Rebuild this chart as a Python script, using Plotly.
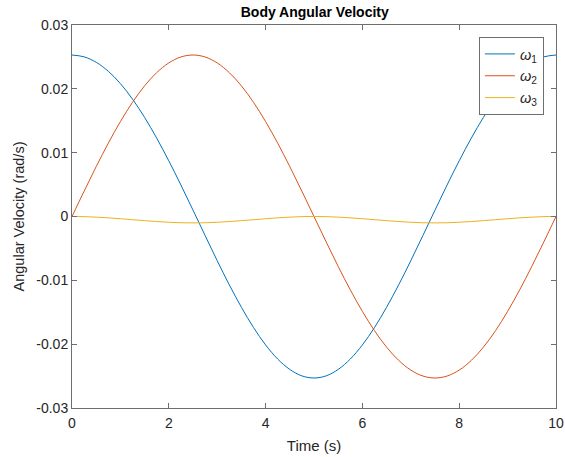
import plotly.graph_objects as go

time_s = [0, 0.25, 0.5, 0.75, 1.0, 1.25, 1.5, 1.75, 2.0, 2.25, 2.5, 2.75, 3.0, 3.25, 3.5, 3.75,
          4.0, 4.25, 4.5, 4.75, 5.0, 5.25, 5.5, 5.75, 6.0, 6.25, 6.5, 6.75, 7.0, 7.25, 7.5, 7.75,
          8.0, 8.25, 8.5, 8.75, 9.0, 9.25, 9.5, 9.75, 10.0]

omega1 = [0.0253, 0.02501, 0.02416, 0.02275, 0.02082, 0.01839, 0.01552, 0.01228, 0.00872, 0.00494,
          0.001, -0.00298, -0.00692, -0.0107, -0.01422, -0.01739, -0.02012, -0.02233, -0.02396, -0.02497,
          -0.0253, -0.02497, -0.02396, -0.02233, -0.02012, -0.01739, -0.01422, -0.0107, -0.00692, -0.00298,
          0.001, 0.00494, 0.00872, 0.01228, 0.01552, 0.01839, 0.02082, 0.02275, 0.02416, 0.02501, 0.0253]

omega2 = [0, 0.00396, 0.00782, 0.01149, 0.01487, 0.01789, 0.02047, 0.02254, 0.02406, 0.02499,
          0.0253, 0.02499, 0.02406, 0.02254, 0.02047, 0.01789, 0.01487, 0.01149, 0.00782, 0.00396,
          0, -0.00396, -0.00782, -0.01149, -0.01487, -0.01789, -0.02047, -0.02254, -0.02406, -0.02499,
          -0.0253, -0.02499, -0.02406, -0.02254, -0.02047, -0.01789, -0.01487, -0.01149, -0.00782, -0.00396, 0]

omega3 = [0, -0.00002, -0.0001, -0.00021, -0.00035, -0.0005, -0.00065, -0.00079, -0.0009, -0.00098,
          -0.001, -0.00098, -0.0009, -0.00079, -0.00065, -0.0005, -0.00035, -0.00021, -0.0001, -0.00002,
          0, -0.00002, -0.0001, -0.00021, -0.00035, -0.0005, -0.00065, -0.00079, -0.0009, -0.00098,
          -0.001, -0.00098, -0.0009, -0.00079, -0.00065, -0.0005, -0.00035, -0.00021, -0.0001, -0.00002, 0]

names = ["<i>ω</i><sub>1</sub>", "<i>ω</i><sub>2</sub>", "<i>ω</i><sub>3</sub>"]
colors = ["#0072BD", "#D95319", "#EDB120"]

x_ticks = [0, 2, 4, 6, 8, 10]
x_tick_labels = ["0", "2", "4", "6", "8", "10"]
y_ticks = [-0.03, -0.02, -0.01, 0, 0.01, 0.02, 0.03]
y_tick_labels = ["-0.03", "-0.02", "-0.01", "0", "0.01", "0.02", "0.03"]

fig = go.Figure()
for ys, nm, c in zip([omega1, omega2, omega3], names, colors):
    fig.add_trace(go.Scatter(x=time_s, y=ys, name=nm, mode="lines",
                             line=dict(color=c, width=1, shape="spline")))

font_family = "Liberation Sans, Arial, sans-serif"
axis_common = dict(showline=True, linecolor="#6e6e6e", linewidth=1, mirror="ticks",
                   ticks="inside", ticklen=5, tickcolor="#6e6e6e", showgrid=False,
                   zeroline=False, automargin=False,
                   tickfont=dict(family=font_family, size=14, color="#262626"))

fig.update_layout(
    width=565, height=457,
    margin=dict(l=72, r=9, t=25, b=49),
    paper_bgcolor="white", plot_bgcolor="white",
    title=dict(text="<b>Body Angular Velocity</b>", x=0.5571, xanchor="center",
               y=0.974, yanchor="middle",
               font=dict(family=font_family, size=14, color="black")),
    xaxis=dict(range=[0, 10], tickvals=x_ticks, ticktext=x_tick_labels, ticklabelstandoff=2,
               title=dict(text="Time (s)", font=dict(family=font_family, size=15, color="#262626"),
                          standoff=10),
               **axis_common),
    yaxis=dict(range=[-0.03, 0.03], tickvals=y_ticks, ticktext=y_tick_labels,
               title=dict(text="Angular Velocity (rad/s)",
                          font=dict(family=font_family, size=14.5, color="#262626"), standoff=8),
               **axis_common),
    legend=dict(x=0.975, y=0.9687, xanchor="right", yanchor="top",
                bgcolor="white", bordercolor="#6e6e6e", borderwidth=1,
                font=dict(family=font_family, size=14.5, color="#262626")),
    showlegend=True,
)

fig.write_html("out.html")
